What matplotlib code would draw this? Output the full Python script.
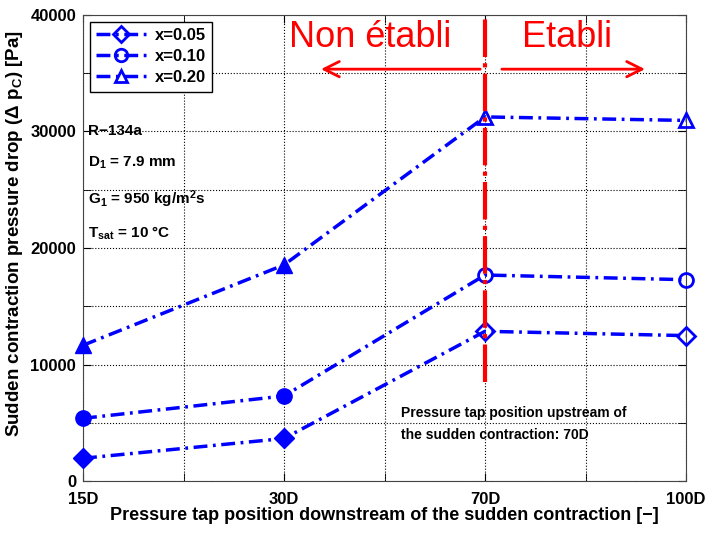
import numpy as np
import matplotlib.pyplot as plt
from matplotlib.lines import Line2D

plt.rcParams["font.family"] = ["Liberation Sans", "DejaVu Sans"]
plt.rcParams["font.weight"] = "bold"
plt.rcParams["axes.labelweight"] = "bold"
plt.rcParams["mathtext.fontset"] = "custom"
plt.rcParams["mathtext.rm"] = "Liberation Sans:bold"
plt.rcParams["mathtext.it"] = "Liberation Sans:bold"
plt.rcParams["mathtext.bf"] = "Liberation Sans:bold"

positions = ["15D", "30D", "70D", "100D"]
qualities = ["x=0.05", "x=0.10", "x=0.20"]
markers = ["D", "o", "^"]
dp_005 = [1950, 3650, 12850, 12480]
dp_010 = [5380, 7300, 17680, 17280]
dp_020 = [11650, 18550, 31250, 30950]
series = [dp_005, dp_010, dp_020]

blue = "#0000ff"
red = "#ff0000"
dash = (0, (4, 1.6, 0.8, 1.6))

fig = plt.figure(figsize=(7.12, 5.35), dpi=100)
ax = fig.add_axes([0.1166, 0.1009, 0.8469, 0.8711])
xi = np.arange(len(positions))

handles = []
for y, m, lab in zip(series, markers, qualities):
    ms = 9 if m != "D" else 8
    ax.plot(xi, y, color=blue, lw=2.5, linestyle=dash, zorder=3)
    # filled markers upstream of the established zone, open markers after
    ax.plot(xi[:2], y[:2], linestyle="none", marker=m, ms=ms + 2,
            color=blue, zorder=4, clip_on=False)
    ax.plot(xi[2:], y[2:], linestyle="none", marker=m, ms=ms + 1,
            markerfacecolor="none", markeredgecolor=blue, mew=2, zorder=4,
            clip_on=False)
    handles.append(Line2D([], [], color=blue, lw=2.5, linestyle=dash,
                          marker=m, ms=ms, markerfacecolor="none", mew=2))

# separation between the zones
ax.plot([2, 2], [8500, 40000], color=red, lw=3,
        linestyle=(0, (9, 1.5, 1, 1.5)), zorder=5)
ax.annotate("", xy=(1.17, 35350), xytext=(1.99, 35350),
            arrowprops=dict(arrowstyle="->,head_length=1.1,head_width=0.55",
                            color=red, lw=2))
ax.annotate("", xy=(2.81, 35350), xytext=(2.07, 35350),
            arrowprops=dict(arrowstyle="->,head_length=1.1,head_width=0.55",
                            color=red, lw=2))
ax.text(1.43, 38100, "Non établi", color=red, fontsize=26,
        fontweight="normal", ha="center", va="center")
ax.text(2.41, 38100, "Etabli", color=red, fontsize=26,
        fontweight="normal", ha="center", va="center")

ax.text(0.025, 30000, "R\u2212134a", fontsize=11, va="center")
ax.text(0.025, 27300, "D$_1$ = 7.9 mm", fontsize=11, va="center")
ax.text(0.025, 24200, "G$_1$ = 950 kg/m$^2$s", fontsize=11, va="center")
ax.text(0.025, 21300, "T$_{sat}$ = 10 °C", fontsize=11, va="center")
ax.text(1.58, 4900, "Pressure tap position upstream of\nthe sudden contraction: 70D",
        fontsize=10, va="center", linespacing=1.75)

ax.set_xlim(0, 3)
ax.set_ylim(0, 40000)
ax.set_xticks(xi)
ax.set_xticklabels(positions)
ax.set_xticks([0.5, 1.5, 2.5], minor=True)
ax.set_yticks(np.arange(0, 40001, 10000))
ax.set_yticks(np.arange(5000, 40000, 10000), minor=True)
ax.tick_params(which="both", direction="in", top=True, right=True, labelsize=12)
ax.tick_params(axis="x", pad=8)
ax.tick_params(axis="y", pad=5)
ax.tick_params(which="both", length=6)
ax.grid(which="both", linestyle=":", color="k", lw=0.8)
for s in ax.spines.values():
    s.set_color("#444444")

ax.set_xlabel("Pressure tap position downstream of the sudden contraction [\u2212]",
              fontsize=13, labelpad=0)
ax.set_ylabel("Sudden contraction pressure drop (\u0394 p$_C$) [Pa]",
              fontsize=13.5)
ax.yaxis.set_label_coords(-0.097, 0.53)

leg = ax.legend(handles, qualities, loc="upper left", fontsize=12,
                handlelength=3, fancybox=False, edgecolor="k",
                borderaxespad=0.4, labelspacing=0.35, framealpha=1,
                handletextpad=0.5)
leg.get_frame().set_linewidth(1)

fig.savefig("out.png", dpi=100)
